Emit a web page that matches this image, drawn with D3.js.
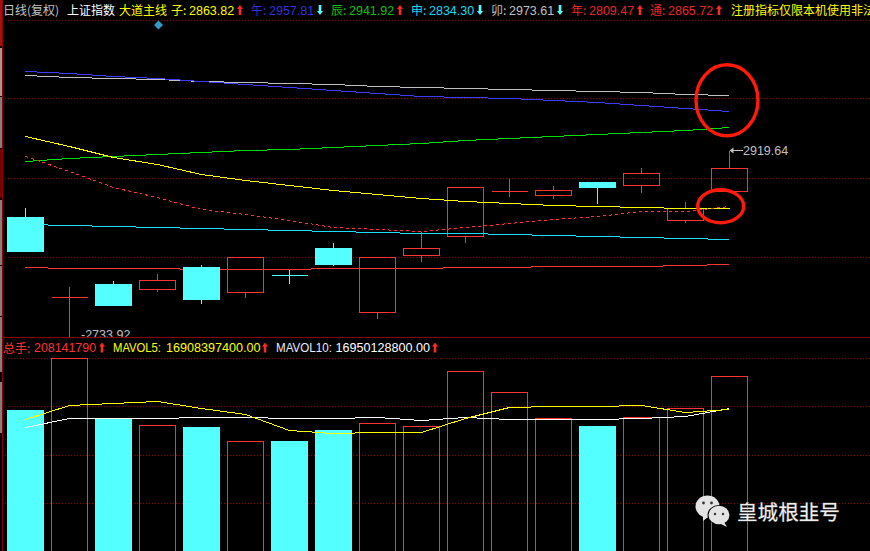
<!DOCTYPE html>
<html><head><meta charset="utf-8">
<style>
html,body{margin:0;padding:0;background:#000;overflow:hidden}
svg{display:block}
text{font-family:"Liberation Sans","Noto Sans CJK SC",sans-serif}
.cjk{font-family:"Noto Sans CJK SC",sans-serif}
</style>
<script src="https://cdn.jsdelivr.net/npm/d3@7"></script>
</head><body>
<script>
// ---------- data ----------
const dirs   = ["d","u","d","u","d","u","d","d","u","u","u","u","u","d","u","u","u"];
const opens  = [2854.4,2777.4,2789.4,2785.0,2805.9,2782.1,2798.1,2824.3,2762.6,2818.0,2836.5,2880.2,2876.3,2888.4,2886.0,2852.2,2880.4];
const closes = [2821.4,2777.4,2769.0,2793.7,2774.8,2815.6,2798.1,2808.8,2815.6,2824.3,2883.6,2880.2,2880.7,2883.6,2898.1,2863.7,2902.7];
const highs  = [2864.1,2787.4,2793.2,2800.0,2808.8,2815.6,2803.9,2830.1,2815.6,2840.8,2883.6,2892.3,2885.5,2888.4,2903.0,2870.9,2919.64];
const lows   = [2821.4,2733.92,2769.0,2782.6,2770.9,2776.7,2790.3,2807.8,2756.3,2811.7,2830.1,2874.8,2872.9,2868.0,2878.7,2849.9,2880.4];

const maMao  = [2992.8,2991.1,2989.7,2988.5,2987.2,2986.2,2985.3,2984.3,2982.6,2981.4,2980.4,2979.4,2978.5,2977.5,2976.1,2974.6,2973.61];
const maWu   = [2996.9,2994.6,2992.1,2990.1,2987.0,2984.3,2981.4,2978.5,2975.8,2972.9,2971.7,2970.7,2968.8,2966.8,2963.8,2961.0,2957.81];
const maChen = [2909.5,2912.0,2914.4,2916.3,2918.2,2920.2,2921.2,2923.1,2925.0,2927.0,2929.9,2931.8,2933.8,2935.7,2937.7,2939.6,2941.92];
const maZi   = [2933.8,2923.4,2913.0,2906.6,2896.2,2891.0,2886.2,2880.9,2877.1,2873.2,2870.6,2868.7,2866.8,2865.8,2864.8,2863.9,2863.82];
const maTong = [2914.4,2899.1,2884.5,2874.5,2862.9,2858.0,2851.8,2845.4,2842.8,2840.8,2845.4,2848.6,2853.2,2855.7,2860.6,2860.9,2865.72];
const maShen = [2848.3,2847.3,2846.4,2845.4,2844.4,2843.5,2842.5,2841.5,2840.5,2839.6,2839.6,2838.6,2837.6,2836.7,2835.7,2834.7,2833.7];
const maNian = [2806.5,2805.6,2805.6,2805.6,2804.6,2804.6,2804.6,2805.6,2805.6,2805.6,2806.5,2806.5,2807.5,2807.5,2807.5,2808.5,2809.47];

const volumes = [168.2,229.5,157.9,150.1,148.1,131.1,131.5,144.5,152.5,148.9,214.1,189.2,158.4,149.3,159.6,170.2,208.14];
const mavol5  = [157.2,173.8,176.2,178.5,170.2,163.1,144.2,140.1,141.3,141.3,158.4,170.6,172.6,172.6,173.8,165.5,169.08];
const mavol10 = [147.7,158.4,158.4,158.4,159.6,159.6,158.4,158.4,159.6,156.0,159.6,157.2,157.2,157.2,158.4,160.8,169.50];

const priceGrid = [3046.7,2970.0,2892.8,2816.0];
const volGrid   = [229.5,172.6,114.6,57.7];

const legendNames  = ["子:","午:","辰:","申:","卯:","年:","通:"];
const legendValues = ["2863.82","2957.81","2941.92","2834.30","2973.61","2809.47","2865.72"];
const legendUp     = [true,false,true,false,false,true,true];
const titleTexts   = ["日线(复权)","上证指数","大道主线"];
const noticeText   = "注册指标仅限本机使用非法";
const volNames     = ["总手:","MAVOL5:","MAVOL10:"];
const volValues    = ["208141790","16908397400.00","16950128800.00"];
const highLabel    = "2919.64";
const lowLabel     = "-2733.92";
const watermark    = "皇城根韭号";

// ---------- style ----------
const RED="#ff3333",CYAN="#54ffff",YEL="#ffff00",GRN="#00e000",BLU="#3c3cff",GRY="#c0c0c0",WHT="#ffffff",DRK="#8c0000";
const lineStyle = [[maMao,GRY],[maWu,BLU],[maChen,GRN],[maZi,YEL],[maShen,"#18e0ff"],[maNian,RED]];
const legendColors = ["#ffff00","#3333dd","#10c010","#18d8f0","#c0c0c0","#e82828","#e82828"];

// ---------- scales ----------
const W=870,H=551;
const x = d3.scaleLinear().domain([0,16]).range([25.5,729.5]);
const y = d3.scaleLinear().domain([3066.17,2733.92]).range([0,342]);
const v = d3.scaleLinear().domain([0,208.14]).range([552,376.3]);
const snap = p => Math.round(p-0.5)+0.5;
const idx = d3.range(17);

const svg = d3.select("body").append("svg").attr("width",W).attr("height",H)
  .style("background","#000");
const crisp = svg.append("g").attr("shape-rendering","crispEdges");
svg.append("defs").append("clipPath").attr("id","top").append("rect")
  .attr("x",0).attr("y",0).attr("width",W).attr("height",337);

// left strip
[[0,46,"#a81010"],[48,96,"#b09090"],[97,148,"#808080"],[149,198,"#7a0000"],[200,265,"#808080"],
 [266,316,"#808080"],[317,372,"#808080"],[382,433,"#808080"]].forEach(s=>
  crisp.append("rect").attr("x",0).attr("y",s[0]).attr("width",2).attr("height",s[1]-s[0]).attr("fill",s[2]));
crisp.append("line").attr("x1",2.5).attr("x2",2.5).attr("y1",0).attr("y2",H).attr("stroke",DRK);
crisp.append("line").attr("x1",2).attr("x2",W).attr("y1",337.5).attr("y2",337.5).attr("stroke",DRK);

// grids
const dotted = (g,vals,s)=>g.selectAll(null).data(vals).join("line")
  .attr("x1",5).attr("x2",W).attr("y1",d=>snap(s(d))).attr("y2",d=>snap(s(d)))
  .attr("stroke","#960000").attr("stroke-dasharray","1 2");
dotted(crisp.append("g"),priceGrid,y);
dotted(crisp.append("g"),volGrid,v);

// volume bars
const volG = crisp.append("g");
volG.selectAll(null).data(idx.filter(i=>dirs[i]==="d")).join("rect")
  .attr("x",i=>x(i)-18.5).attr("width",37)
  .attr("y",i=>Math.round(v(volumes[i]))).attr("height",i=>H-Math.round(v(volumes[i])))
  .attr("fill",CYAN);
volG.selectAll(null).data(idx.filter(i=>dirs[i]==="u")).join("rect")
  .attr("x",i=>x(i)-18).attr("width",36)
  .attr("y",i=>snap(v(volumes[i]))).attr("height",i=>H+5-snap(v(volumes[i])))
  .attr("fill","none").attr("stroke",RED);

const lineGen = s => d3.line().x((d,i)=>x(i)).y(d=>snap(s(d)));
[[mavol10,WHT],[mavol5,YEL]].forEach(([a,c])=>
  crisp.append("path").attr("d",lineGen(v)(a)).attr("fill","none").attr("stroke",c));

// red candles under the lines
function candles(dir,color){
  const g = crisp.append("g");
  idx.filter(i=>dirs[i]===dir).forEach(i=>{
    const top=snap(y(Math.max(opens[i],closes[i]))), bot=snap(y(Math.min(opens[i],closes[i])));
    const hi=snap(y(highs[i])), lo=snap(y(lows[i])), c=x(i);
    const l=(x1,y1,x2,y2)=>g.append("line").attr("x1",x1).attr("y1",y1).attr("x2",x2).attr("y2",y2).attr("stroke",color);
    if(hi<top) l(c,hi,c,top);
    if(lo>bot) l(c,bot,c,Math.min(lo,337));
    if(top===bot){ l(c-18,top,c+18.5,top); }
    else if(dir==="d"){
      g.append("rect").attr("x",c-18.5).attr("width",37).attr("y",top-0.5).attr("height",bot-top+1).attr("fill",color);
    } else {
      g.append("rect").attr("x",c-18).attr("width",36).attr("y",top).attr("height",bot-top)
        .attr("fill","none").attr("stroke",color);
    }
  });
}
candles("u",RED);

// moving averages
lineStyle.forEach(([a,c])=>
  crisp.append("path").attr("d",lineGen(y)(a)).attr("fill","none").attr("stroke",c));
crisp.append("path").attr("d",lineGen(y)(maTong)).attr("fill","none").attr("stroke",RED)
  .attr("stroke-dasharray","3 3");

candles("d",CYAN);

// header text
const label=(t,px,py,c,size,cls)=>svg.append("text").attr("x",px).attr("y",py).attr("fill",c)
  .attr("font-size",size).attr("class",cls||null).text(t);
const arrow=(px,py,up,c)=>{
  const d = up ? `M${px-1.3},${py+10}V${py+4}H${px-3}L${px},${py}L${px+3},${py+4}H${px+1.3}V${py+10}Z`
               : `M${px-1.3},${py}V${py+6}H${px-3}L${px},${py+10}L${px+3},${py+6}H${px+1.3}V${py}Z`;
  svg.append("path").attr("d",d).attr("fill",c);
};
label(titleTexts[0],3,15,"#c4c4c4",12,"cjk");
label(titleTexts[1],67,15,WHT,12,"cjk");
label(titleTexts[2],119,15,YEL,12,"cjk");
legendNames.forEach((n,i)=>{
  const x0 = 171+80*i - (i===6?1:0);
  label(n,x0,15,legendColors[i],12,"cjk");
  label(legendValues[i],x0+18,14.5,legendColors[i],12.5);
  arrow(x0+69,5,legendUp[i],legendUp[i]?"#ff2828":CYAN);
});
label(noticeText,731,15,YEL,12,"cjk");

// volume header
label(volNames[0],3,352.5,RED,12,"cjk");
label(volValues[0],34,352.3,RED,12.4);
arrow(102,342.5,true,"#ff2828");
label(volNames[1],113,352.3,YEL,12.4).attr("textLength",48).attr("lengthAdjust","spacingAndGlyphs");
label(volValues[1],166,352.3,YEL,12.6);
arrow(265,342.5,true,"#ff2828");
label(volNames[2],276,352.3,"#e8e8ff",12.4).attr("textLength",56).attr("lengthAdjust","spacingAndGlyphs");
label(volValues[2],335.5,352.3,WHT,12.6);
arrow(435,342.5,true,"#ff2828");

// high / low labels
const hx=x(16), hy=150.5;
crisp.append("line").attr("x1",hx+3).attr("x2",hx+13).attr("y1",hy).attr("y2",hy).attr("stroke",GRY);
svg.append("path").attr("d",`M${hx},${hy}l4,-3v6z`).attr("fill",GRY);
label(highLabel,743,155,GRY,12.5);
label(lowLabel,81,339,GRY,12.5).attr("clip-path","url(#top)");

// selection diamond
svg.append("path").attr("d","M158.5,20.5l4.5,4.5l-4.5,4.5l-4.5,-4.5z").attr("fill","#3399cc");

// hand-drawn circles
[[727,100.3,31,35.5],[720.7,206.3,23,16.5]].forEach(e=>
  svg.append("ellipse").attr("cx",e[0]).attr("cy",e[1]).attr("rx",e[2]).attr("ry",e[3])
    .attr("fill","none").attr("stroke","#ff1a0a").attr("stroke-width",3.4));

// watermark
const wm=svg.append("g");
wm.append("path").attr("d","M703,516l0,5l5,-4z").attr("fill","#e4e4e4");
wm.append("ellipse").attr("cx",707.5).attr("cy",506.5).attr("rx",12).attr("ry",11).attr("fill","#e4e4e4");
wm.append("ellipse").attr("cx",719).attr("cy",515).attr("rx",11.5).attr("ry",10).attr("fill","#000");
wm.append("path").attr("d","M724,522l3,5l-6,-3z").attr("fill","#e4e4e4");
wm.append("ellipse").attr("cx",719).attr("cy",515).attr("rx",10.5).attr("ry",9.2).attr("fill","#e4e4e4");
[[703.5,503,1.4],[711.5,503,1.4],[715,514,1.2],[723,514,1.2]].forEach(d=>
  wm.append("circle").attr("cx",d[0]).attr("cy",d[1]).attr("r",d[2]).attr("fill","#333"));
label(watermark,737,520,"#efefef",20.6,"cjk")
  .style("paint-order","stroke").style("stroke","#444").style("stroke-width","0.8px");
</script>
</body></html>
